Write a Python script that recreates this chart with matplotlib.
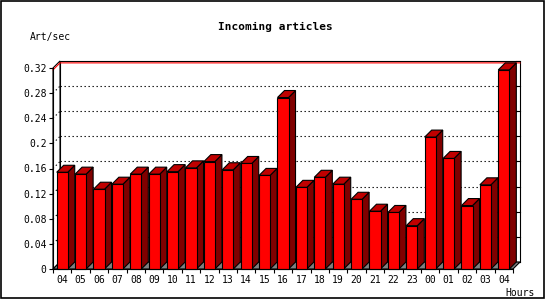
import matplotlib
matplotlib.use("Agg")
import matplotlib.pyplot as plt
from matplotlib.patches import Polygon, Rectangle
from matplotlib.ticker import FixedLocator, NullFormatter, FixedFormatter

hours = ["04", "05", "06", "07", "08", "09", "10", "11", "12", "13", "14", "15",
         "16", "17", "18", "19", "20", "21", "22", "23", "00", "01", "02", "03", "04"]
rates = [0.154, 0.151, 0.127, 0.135, 0.151, 0.151, 0.155, 0.161, 0.171, 0.158,
         0.168, 0.149, 0.273, 0.130, 0.146, 0.135, 0.111, 0.092, 0.090, 0.069,
         0.210, 0.176, 0.101, 0.134, 0.317]
y_ticks = [0, 0.04, 0.08, 0.12, 0.16, 0.2, 0.24, 0.28, 0.32]

FRONT = "#ff0000"
TOP = "#c00000"
SIDE = "#800000"
FLOOR = "#808080"
LW = 0.8

plt.rcParams["font.family"] = "DejaVu Sans Mono"

fig = plt.figure(figsize=(5.5, 3.0), dpi=100)
fig.patch.set_facecolor("white")
fig.patches.append(Rectangle((1 / 550, 2 / 300), 543 / 550, 297 / 300,
                             transform=fig.transFigure, fill=False,
                             edgecolor="black", linewidth=1.2))

ax = fig.add_axes([53 / 550, 31 / 300, 460 / 550, 201 / 300])
n = len(rates)
ymax = y_ticks[-1]
ax.set_xlim(0, n)
ax.set_ylim(0, ymax)
ax.set_facecolor("none")

# depth of the fake 3d, 7 px in both directions
dx = 7 / 18.4
dy = 7 * ymax / 201


def poly(pts, fc, z, ec="black", **kw):
    p = Polygon(pts, closed=True, facecolor=fc, edgecolor=ec, linewidth=LW,
                clip_on=False, zorder=z, **kw)
    ax.add_patch(p)


# back wall and left wall
poly([(dx, dy), (n + dx, dy), (n + dx, ymax + dy), (dx, ymax + dy)], "white", 1)
poly([(0, 0), (dx, dy), (dx, ymax + dy), (0, ymax)], "white", 1)

# grid on the walls
for t in y_ticks[1:-1]:
    ax.plot([dx, n + dx], [t + dy, t + dy], color="black", lw=LW,
            linestyle=(0, (1.2, 2.4)), clip_on=False, zorder=2)
    ax.plot([0, dx], [t, t + dy], color="black", lw=LW,
            linestyle=(0, (1.2, 2.4)), clip_on=False, zorder=2)
for t in y_ticks:
    ax.plot([n + dx - 0.2, n + dx], [t + dy, t + dy], color="black", lw=LW,
            clip_on=False, zorder=2)

# max line
top = max(rates)
ax.plot([0, dx, n + dx], [top, top + dy, top + dy], color=FRONT, lw=LW,
        clip_on=False, zorder=3)

# floor
poly([(0, 0), (n, 0), (n + dx, dy), (dx, dy)], FLOOR, 4)

# bars
for i, v in enumerate(rates):
    x0 = i + 0.2
    x1 = i + 0.8
    poly([(x1, 0), (x1 + dx, dy), (x1 + dx, v + dy), (x1, v)], SIDE, 5)
    poly([(x0, v), (x1, v), (x1 + dx, v + dy), (x0 + dx, v + dy)], TOP, 5)
    poly([(x0, 0), (x1, 0), (x1, v), (x0, v)], FRONT, 6)

for s in ["top", "right"]:
    ax.spines[s].set_visible(False)
for s in ["left", "bottom"]:
    ax.spines[s].set_linewidth(LW)
    ax.spines[s].set_zorder(7)

ax.set_yticks(y_ticks)
ax.set_yticklabels(["%g" % t for t in y_ticks])
ax.tick_params(axis="y", direction="out", length=2.6, width=LW, pad=2,
               labelsize=7)

ax.xaxis.set_major_locator(FixedLocator(range(n + 1)))
ax.xaxis.set_major_formatter(NullFormatter())
ax.xaxis.set_minor_locator(FixedLocator([i + 0.5 for i in range(n)]))
ax.xaxis.set_minor_formatter(FixedFormatter(hours))
ax.tick_params(axis="x", which="major", direction="out", length=3, width=LW)
ax.tick_params(axis="x", which="minor", length=0, pad=4.5, labelsize=7)

fig.text(275 / 550, 1 - 27 / 300, "Incoming articles", ha="center",
         va="center", fontsize=8, fontweight="bold")
fig.text(30 / 550, 1 - 37 / 300, "Art/sec", ha="left", va="center", fontsize=7)
fig.text(505 / 550, 1 - 293 / 300, "Hours", ha="left", va="center", fontsize=7)

fig.savefig("out.png", dpi=100)
